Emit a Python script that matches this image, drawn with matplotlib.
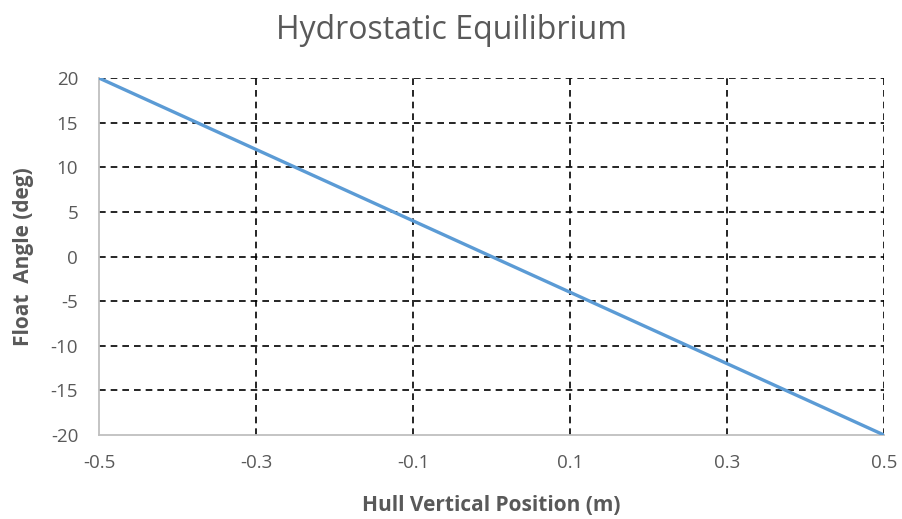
import matplotlib
matplotlib.use("Agg")
import matplotlib.pyplot as plt

x_pos = [-0.5, -0.3, -0.1, 0.0, 0.1, 0.3, 0.5]
float_angle = [20, 12, 4, 0, -4, -12, -20]
x_ticks = [-0.5, -0.3, -0.1, 0.1, 0.3, 0.5]
y_ticks = [-20, -15, -10, -5, 0, 5, 10, 15, 20]

plt.rcParams['font.family'] = ['Open Sans', 'DejaVu Sans']

fig = plt.figure(figsize=(9.03, 5.19), dpi=100)
ax = fig.add_axes([0.1096, 0.1618, 0.979 - 0.1096, 0.8497 - 0.1618])

ax.plot(x_pos, float_angle, color='#5B9BD5', linewidth=2.4, zorder=3, solid_capstyle='butt')

ax.set_xlim(-0.5, 0.5)
ax.set_ylim(-20, 20)
ax.set_xticks(x_ticks)
ax.set_xticklabels([f"{v:g}" for v in x_ticks])
ax.set_yticks(y_ticks)
ax.set_yticklabels([str(v) for v in y_ticks])

ax.grid(True, color='black', linestyle=(0, (4, 3)), linewidth=1.2)
ax.set_axisbelow(True)
ax.xaxis.get_gridlines()[0].set_visible(False)
ax.yaxis.get_gridlines()[0].set_visible(False)

for s in ['top', 'right']:
    ax.spines[s].set_visible(False)
for s in ['left', 'bottom']:
    ax.spines[s].set_color('#BFBFBF')
    ax.spines[s].set_linewidth(1.3)

ax.tick_params(axis='both', length=0, labelsize=13.5, colors='#595959')
ax.tick_params(axis='y', pad=15)
ax.tick_params(axis='x', pad=14)

ax.set_xlabel('Hull Vertical Position (m)', fontsize=15, fontweight='bold', color='#595959')
ax.set_ylabel('Float  Angle (deg)', fontsize=15, fontweight='bold', color='#595959')
ax.xaxis.set_label_coords(0.5, -0.168)
ax.yaxis.set_label_coords(-0.083, 0.5)
fig.suptitle('Hydrostatic Equilibrium', fontsize=23, color='#595959', y=0.973)

fig.savefig('out.png', dpi=100)
